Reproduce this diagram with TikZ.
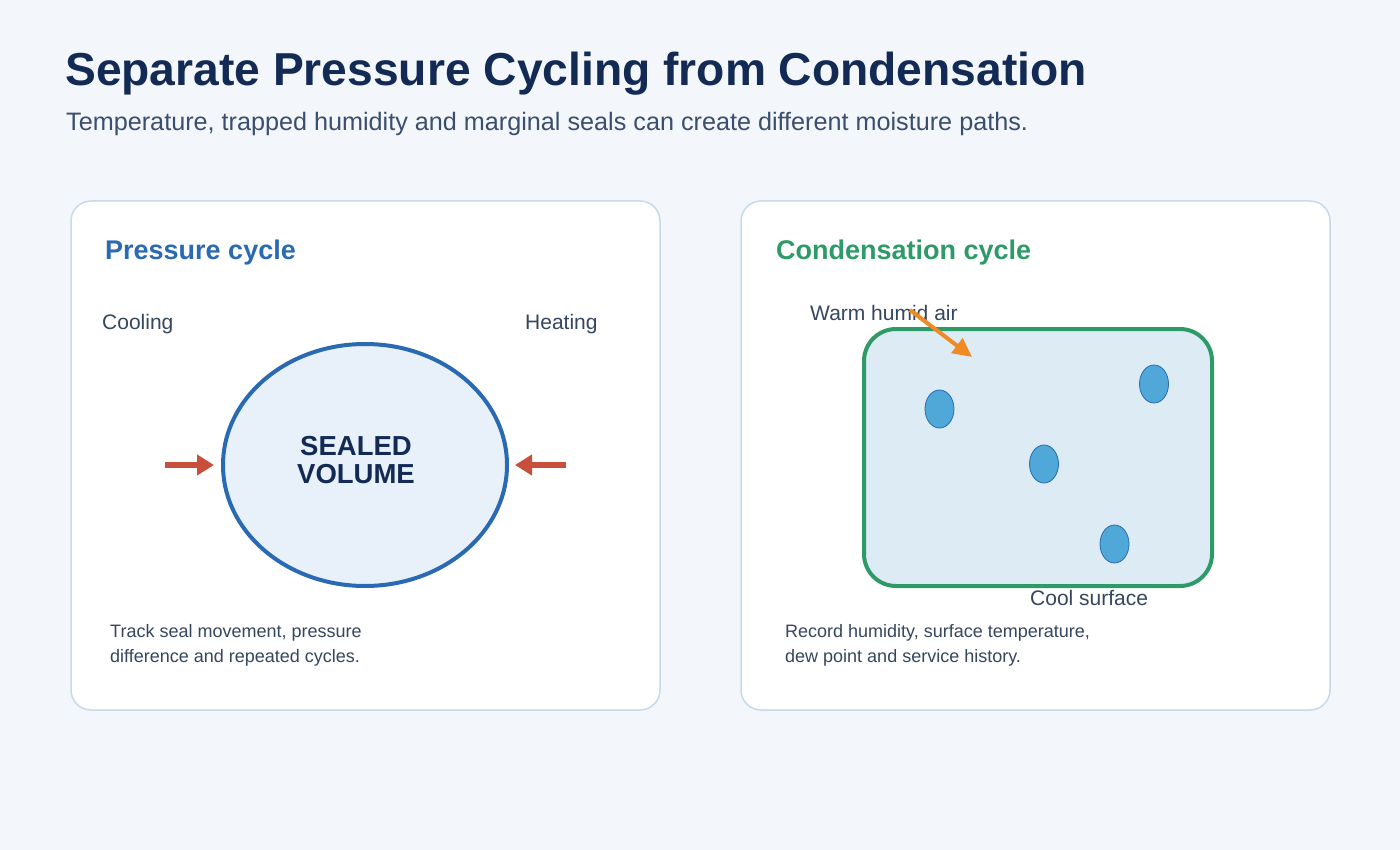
\documentclass[tikz,border=0pt]{standalone}
\usepackage{fontspec}
\setmainfont{Liberation Sans}
\usetikzlibrary{arrows.meta,shapes.geometric}
\definecolor{bgc}{HTML}{F3F7FC}
\definecolor{panelline}{HTML}{C6DAEC}
\definecolor{titlec}{HTML}{132B54}
\definecolor{subc}{HTML}{3B4E6C}
\definecolor{bluec}{HTML}{2A6AB2}
\definecolor{greenc}{HTML}{2E9A68}
\definecolor{ellfill}{HTML}{E8F1FA}
\definecolor{redc}{HTML}{C94F3D}
\definecolor{labc}{HTML}{35465F}
\definecolor{rectfill}{HTML}{DDEBF5}
\definecolor{dropc}{HTML}{4FA8D8}
\definecolor{orangec}{HTML}{F08A24}
\tikzset{
  panel/.style={draw=panelline, line width=1.5pt, fill=white, rounded corners=20pt},
  lab/.style={anchor=base west, inner sep=0pt, text=labc, font=\fontsize{21}{25}\selectfont},
  body/.style={anchor=base west, inner sep=0pt, text=labc, font=\fontsize{18}{25}\selectfont},
  ptitle/.style={anchor=base west, inner sep=0pt, font=\bfseries\fontsize{27}{32}\selectfont},
  drop/.style={ellipse, draw=bluec, line width=0.8pt, fill=dropc, minimum width=29pt, minimum height=38pt, inner sep=0pt},
  redarrow/.style={draw=redc, line width=6pt, -{Triangle[length=17pt,width=20pt]}},
}
\begin{document}
\begin{tikzpicture}[x=1pt,y=-1pt]
\fill[bgc] (0,0) rectangle (1400,850);
\useasboundingbox (0,0) rectangle (1400,850);
% titles
\node[anchor=base west, inner sep=0pt, text=titlec, font=\bfseries\fontsize{46.2}{55}\selectfont] (title) at (65,86) {Separate Pressure Cycling from Condensation};
\node[anchor=base west, inner sep=0pt, text=subc, font=\fontsize{25.2}{29}\selectfont] (sub) at (66,131) {Temperature, trapped humidity and marginal seals can create different moisture paths.};
% panels
\draw[panel] (71,201) rectangle (660,710);
\draw[panel] (741,201) rectangle (1330,710);
% left panel
\node[ptitle, text=bluec] (pt) at (105,260) {Pressure cycle};
\node[lab] (cool) at (102,330) {Cooling};
\node[lab] (heat) at (525,330) {Heating};
\node[ellipse, draw=bluec, line width=4pt, fill=ellfill, minimum width=284pt, minimum height=242pt, inner sep=0pt] (vol) at (365,465) {};
\node[anchor=base, inner sep=0pt, text=titlec, font=\bfseries\fontsize{27.5}{28}\selectfont] (vt1) at (356,455) {SEALED};
\node[anchor=base, inner sep=0pt, text=titlec, font=\bfseries\fontsize{27.5}{28}\selectfont] (vt2) at (356,483) {VOLUME};
\coordinate (la) at (165,465);
\coordinate (ra) at (566,465);
\draw[redarrow] (la) -- ([xshift=-7pt]vol.west);
\draw[redarrow] (ra) -- ([xshift=6pt]vol.east);
\node[body] (b1) at (110,637) {Track seal movement, pressure};
\node[body] (b2) at (110,662) {difference and repeated cycles.};
% right panel
\node[ptitle, text=greenc] (ct) at (776,260) {Condensation cycle};
\draw[draw=greenc, line width=4pt, fill=rectfill, rounded corners=32pt] (864,329) rectangle (1212,586);
\node[drop] (d1) at (939.5,409) {};
\node[drop] (d2) at (1154,384) {};
\node[drop] (d3) at (1044,464) {};
\node[drop] (d4) at (1114.5,544) {};
\node[lab] (warm) at (810,320) {Warm humid air};
\coordinate (oa) at (910,310);
\coordinate (ob) at (972,357);
\draw[draw=orangec, line width=4pt, -{Triangle[length=19pt,width=18pt]}] (oa) -- (ob);
\node[lab] (coolsurf) at (1030,605) {Cool surface};
\node[body] (r1) at (785,637) {Record humidity, surface temperature,};
\node[body] (r2) at (785,662) {dew point and service history.};
\end{tikzpicture}
\end{document}
